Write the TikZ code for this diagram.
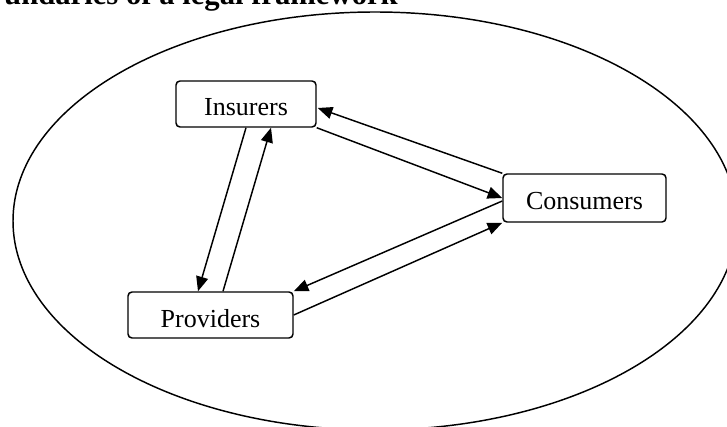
\documentclass[tikz,border=0pt]{standalone}
\usepackage{fontspec}
\setmainfont{Liberation Serif}
\usetikzlibrary{arrows.meta,calc}
\begin{document}
\begin{tikzpicture}[x=0.75pt,y=-0.75pt,
  box/.style={draw,line width=1.1pt,rounded corners=3pt,inner sep=0pt,
    font=\fontsize{19.5}{23}\selectfont,text height=20pt,text depth=2pt},
  link/.style={line width=1.1pt,-{Triangle[length=11pt,width=9pt]}},
  frame/.style={line width=1.1pt}]
\useasboundingbox (0,0) rectangle (727,427);
\draw[frame] (375,221) ellipse [x radius=362, y radius=209];
\node[font=\fontsize{23}{27}\selectfont\bfseries, anchor=base east, inner sep=0pt] (title) at (398,5) {undaries of a legal framework};
\node[box, minimum width=105pt, minimum height=34.5pt] (ins) at (246,104) {Insurers};
\node[box, minimum width=123.75pt, minimum height=34.5pt] (prov) at (210.5,315) {Providers};
\node[box, minimum width=122.25pt, minimum height=36pt] (con) at (584.5,198) {Consumers};
% Insurers <-> Consumers
\draw[link] (con.north west) -- ($(ins.east)+(1,4)$);
\draw[link] (ins.south east) -- (con.west);
% Insurers <-> Providers
\draw[link] (ins.south) -- ($(prov.north)+(-12.5,0)$);
\draw[link] ($(prov.north)+(12.5,0)$) -- ($(ins.south)+(25,0)$);
% Consumers <-> Providers
\draw[link] ($(con.west)+(0,3)$) -- (prov.north east);
\draw[link] (prov.east) -- (con.south west);
\end{tikzpicture}
\end{document}
